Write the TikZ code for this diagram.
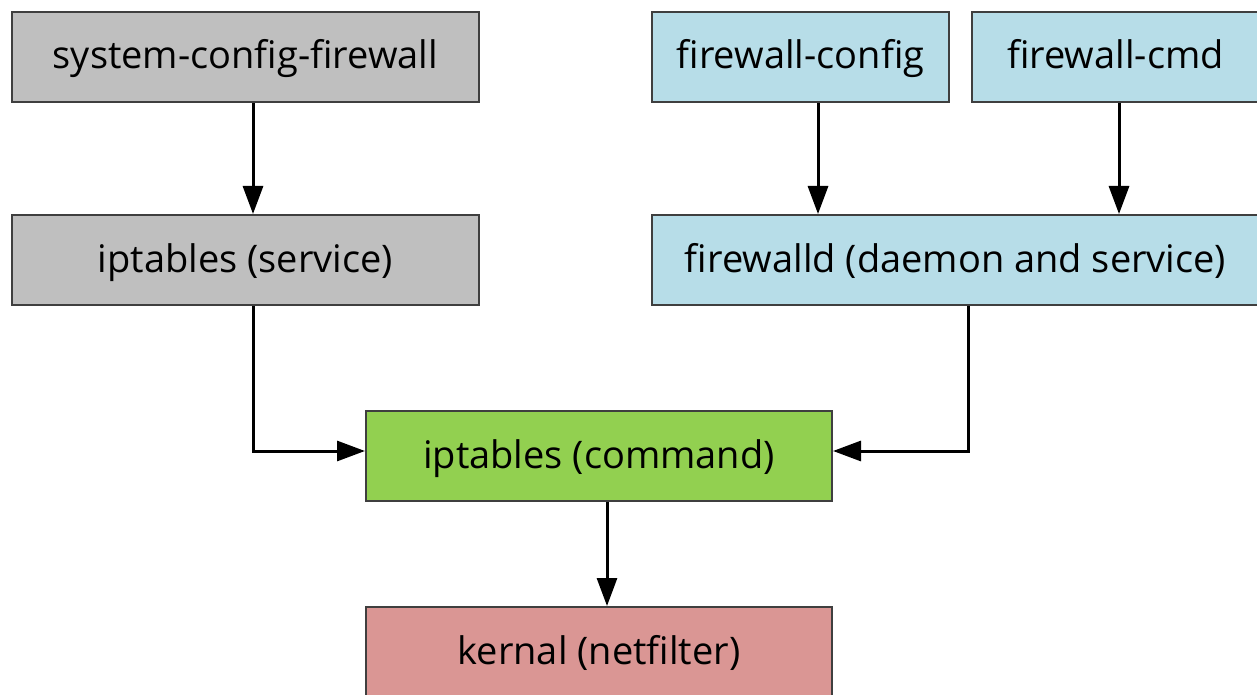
\documentclass[tikz,border=0pt]{standalone}
\usepackage{fontspec}
\setmainfont{Open Sans}
\usepackage{xcolor}
\usetikzlibrary{arrows.meta,positioning}

\definecolor{oldgray}{HTML}{BFBFBF}
\definecolor{newblue}{HTML}{B7DDE8}
\definecolor{cmdgreen}{HTML}{92D050}
\definecolor{kernred}{HTML}{DA9694}
\definecolor{edge}{HTML}{3F3F3F}

\begin{document}
\begin{tikzpicture}[x=1pt, y=-1pt,
    box/.style={draw=edge, line width=2pt, minimum height=90pt, inner sep=0pt,
        text height=29pt, text depth=5pt, font=\fontsize{38}{45}\selectfont},
    arr/.style={line width=3pt, -{Triangle[length=28pt,width=20pt]}}]
    \useasboundingbox (0,0) rectangle (1257,695);

    % old tools
    \node [box, fill=oldgray, minimum width=467pt] (sysfw) at (245.5,57) {system-config-firewall};
    \node [box, fill=oldgray, minimum width=467pt] (iptsvc) at (245.5,260) {iptables (service)};

    % firewalld tools
    \node [box, fill=newblue, minimum width=297pt] (fwconfig) at (800.5,57) {firewall-config};
    \node [box, fill=newblue, minimum width=287pt] (fwcmd) at (1115.5,57) {firewall-cmd};
    \node [box, fill=newblue, minimum width=607pt] (fwd) at (955.5,260) {firewalld (daemon and service)};

    % command and kernel
    \node [box, fill=cmdgreen, minimum width=466pt] (iptcmd) at (599,456) {iptables (command)};
    \node [box, fill=kernred, minimum width=466pt] (kernal) at (599,652) {kernal (netfilter)};

    \draw [arr] ([xshift=7.5pt]sysfw.south) -- ([xshift=7.5pt]iptsvc.north);
    \draw [arr] ([xshift=17.5pt]fwconfig.south) -- ([xshift=17.5pt]fwd.north west -| fwconfig.south);
    \draw [arr] ([xshift=3.5pt]fwcmd.south) -- ([xshift=3.5pt]fwd.north west -| fwcmd.south);
    \draw [arr] ([xshift=7.5pt]iptsvc.south) |- ([yshift=5pt]iptcmd.west);
    \draw [arr] ([xshift=12.5pt]fwd.south) |- ([yshift=5pt]iptcmd.east);
    \draw [arr] ([xshift=8pt]iptcmd.south) -- ([xshift=8pt]kernal.north);
\end{tikzpicture}
\end{document}
